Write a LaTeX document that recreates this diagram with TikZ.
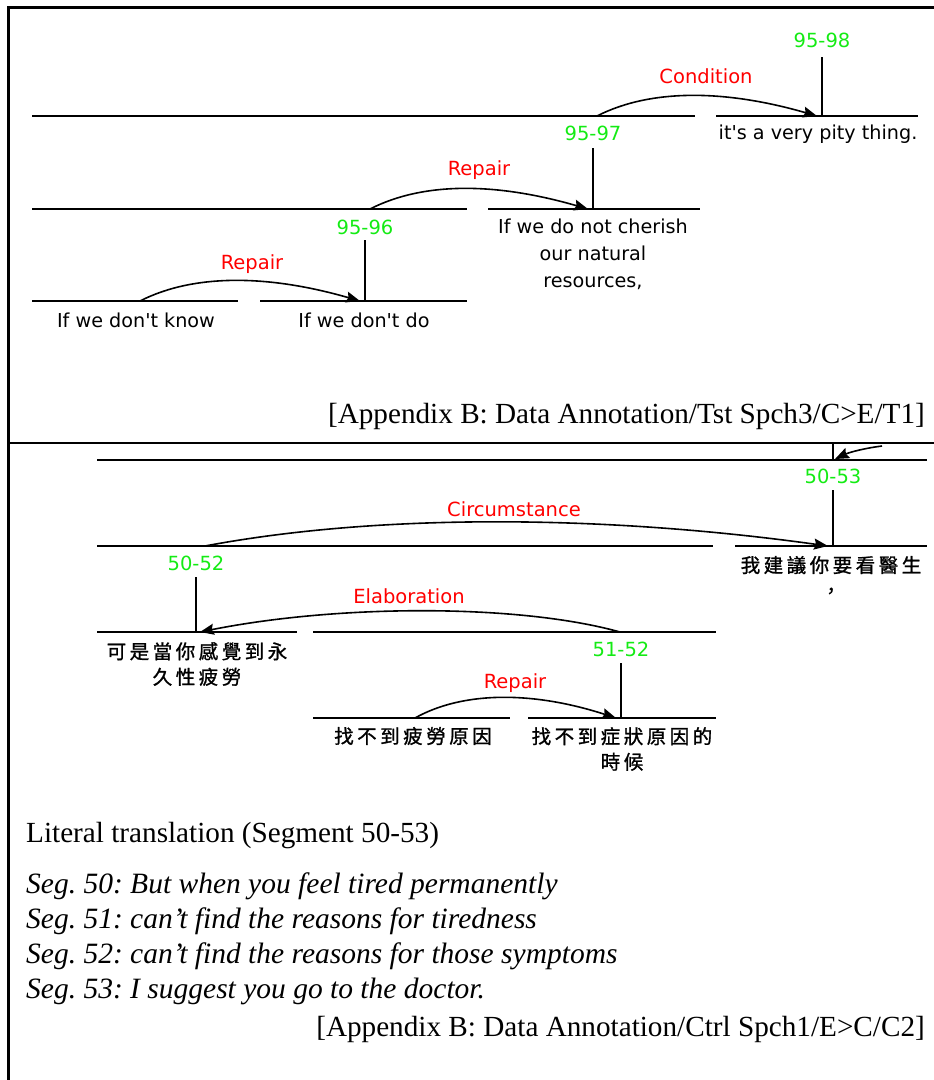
\documentclass[tikz,border=0pt]{standalone}
\usepackage{fontspec}
\setmainfont{Liberation Serif}
\newfontfamily\dvs{DejaVu Sans}
\newfontfamily\cjk[LetterSpace=18,FakeBold=1.2]{Noto Sans CJK TC}
\usetikzlibrary{arrows.meta}
\definecolor{segGreen}{RGB}{20,235,20}
\definecolor{relRed}{RGB}{255,0,0}
\tikzset{
  hline/.style={line width=2pt},
  vline/.style={line width=1.5pt},
  frame/.style={line width=2.8pt},
  span/.style={text=segGreen, font=\dvs\fontsize{19.5}{24}\selectfont, inner sep=1pt},
  rel/.style={text=relRed, font=\dvs\fontsize{19.5}{24}\selectfont, inner sep=1pt},
  seg/.style={font=\dvs\fontsize{19.2}{27}\selectfont, align=center, inner sep=1pt},
  zh/.style={font=\cjk\fontsize{19.5}{25.5}\selectfont, align=center, inner sep=1pt},
  relarc/.style={line width=1.6pt, -{Stealth[length=14pt,width=11pt,inset=2pt]}},
  times/.style={font=\fontsize{29.2}{34}\selectfont\frenchspacing, inner sep=0pt},
  itimes/.style={font=\fontsize{29.5}{34}\selectfont\frenchspacing\itshape, inner sep=0pt},
}
\begin{document}
\begin{tikzpicture}[x=1pt,y=-1pt]
\useasboundingbox (0,0) rectangle (934,1080);
% frame
\coordinate (F1) at (8.5,1080);
\coordinate (F2) at (8.5,7.5);
\coordinate (F3) at (934,7.5);
\coordinate (D1) at (8.5,443);
\coordinate (D2) at (934,443);
\draw[frame] (F1) -- (F2) -- (F3);
\draw[frame] (D1) -- (D2);

% ---------------- top section ----------------
\coordinate (L1a) at (32,116);  \coordinate (L1b) at (695,116);
\coordinate (R1a) at (716,116); \coordinate (R1b) at (918,116);
\draw[hline] (L1a) -- (L1b);
\draw[hline] (R1a) -- (R1b);
\node[span] (s98) at (822,40) {95-98};
\coordinate (p98) at (822,116);
\draw[vline] (822,57) -- (p98);
\node[rel] (condition) at (706,76) {Condition};
\coordinate (t98) at (597,116);
\coordinate (h98) at (817,116);
\draw[relarc] (t98) .. controls +(55,-28) and +(-90,-26) .. (h98);
\node[seg] (seg98) at (818,134) {it\textquotesingle s a very pity thing.};

\node[span] (s97) at (593,133) {95-97};
\coordinate (L2a) at (32,209);  \coordinate (L2b) at (467,209);
\coordinate (R2a) at (488,209); \coordinate (R2b) at (700,209);
\draw[hline] (L2a) -- (L2b);
\draw[hline] (R2a) -- (R2b);
\coordinate (p97) at (593,209);
\draw[vline] (593,148) -- (p97);
\node[rel] (repair1) at (479,170) {Repair};
\coordinate (t97) at (370,209);
\coordinate (h97) at (588,209);
\draw[relarc] (t97) .. controls +(55,-28) and +(-90,-26) .. (h97);
\node[seg] (seg97) at (593,254) {If we do not cherish\\our natural\\resources,};

\node[span] (s96) at (365,227) {95-96};
\coordinate (L3a) at (32,301);  \coordinate (L3b) at (238,301);
\coordinate (R3a) at (260,301); \coordinate (R3b) at (467,301);
\draw[hline] (L3a) -- (L3b);
\draw[hline] (R3a) -- (R3b);
\coordinate (p96) at (365,301);
\draw[vline] (365,240) -- (p96);
\node[rel] (repair2) at (252,264) {Repair};
\coordinate (t96) at (140,301);
\coordinate (h96) at (360,301);
\draw[relarc] (t96) .. controls +(55,-28) and +(-90,-26) .. (h96);
\node[seg] (seg95) at (136,320) {If we don\textquotesingle t know};
\node[seg] (seg96) at (364,320) {If we don\textquotesingle t do};

\node[times, anchor=east] (appA) at (925,416) {[Appendix B: Data Annotation/Tst Spch3/C>E/T1]};

% ---------------- bottom section ----------------
\coordinate (Ta) at (97,460); \coordinate (Tb) at (927,460);
\draw[hline] (Ta) -- (Tb);
\coordinate (v53a) at (833,444);
\coordinate (v53b) at (833,460);
\draw[vline] (v53a) -- (v53b);
\coordinate (inT) at (882,446);
\coordinate (inH) at (835,459);
\draw[relarc] (inT) .. controls (866,448) and (850,452) .. (inH);

\node[span] (s53) at (833,476) {50-53};
\coordinate (Lca) at (97,546);  \coordinate (Lcb) at (713,546);
\coordinate (Rca) at (735,546); \coordinate (Rcb) at (927,546);
\draw[hline] (Lca) -- (Lcb);
\draw[hline] (Rca) -- (Rcb);
\coordinate (p53) at (833,546);
\draw[vline] (833,490) -- (p53);
\node[rel] (circ) at (514,509) {Circumstance};
\coordinate (t53) at (205,546);
\coordinate (h53) at (828,546);
\draw[relarc] (t53) .. controls +(170,-32) and +(-230,-32) .. (h53);
\node[zh] (zh53) at (831,577) {我建議你要看醫生\\，};

\node[span] (s52) at (196,563) {50-52};
\coordinate (Lea) at (97,632);  \coordinate (Leb) at (297,632);
\coordinate (Rea) at (313,632); \coordinate (Reb) at (716,632);
\draw[hline] (Lea) -- (Leb);
\draw[hline] (Rea) -- (Reb);
\coordinate (p52) at (196,632);
\draw[vline] (196,577) -- (p52);
\node[rel] (elab) at (409,596) {Elaboration};
\coordinate (t52) at (620,632);
\coordinate (h52) at (200,632);
\draw[relarc] (t52) .. controls +(-100,-28) and +(140,-28) .. (h52);
\node[zh] (zh50) at (197,664) {可是當你感覺到永\\久性疲勞};

\node[span] (s5152) at (621,649) {51-52};
\coordinate (Lra) at (313,718); \coordinate (Lrb) at (510,718);
\coordinate (Rra) at (528,718); \coordinate (Rrb) at (716,718);
\draw[hline] (Lra) -- (Lrb);
\draw[hline] (Rra) -- (Rrb);
\coordinate (p5152) at (621,718);
\draw[vline] (621,663) -- (p5152);
\node[rel] (repair3) at (515,683) {Repair};
\coordinate (t5152) at (415,718);
\coordinate (h5152) at (616,718);
\draw[relarc] (t5152) .. controls +(50,-28) and +(-80,-26) .. (h5152);
\node[zh] (zh51) at (413,736) {找不到疲勞原因};
\node[zh] (zh52) at (622,749) {找不到症狀原因的\\時候};

% ---------------- translation ----------------
\node[times, anchor=west] (lit) at (26,836) {Literal translation (Segment 50-53)};
\node[itimes, anchor=west] (g50) at (26,886) {Seg. 50: But when you feel tired permanently};
\node[itimes, anchor=west] (g51) at (26,921) {Seg. 51: can't find the reasons for tiredness};
\node[itimes, anchor=west] (g52) at (26,956) {Seg. 52: can't find the reasons for those symptoms};
\node[itimes, anchor=west] (g53) at (26,991) {Seg. 53: I suggest you go to the doctor.};
\node[times, anchor=east] (appB) at (925,1029) {[Appendix B: Data Annotation/Ctrl Spch1/E>C/C2]};
\end{tikzpicture}
\end{document}
